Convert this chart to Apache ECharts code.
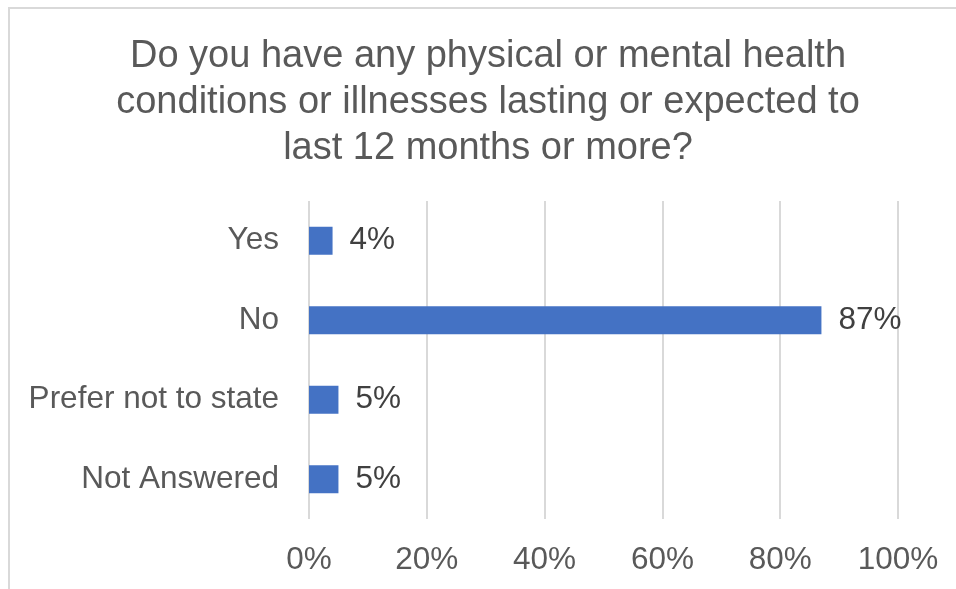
<!DOCTYPE html>
<html>
<head>
<meta charset="utf-8">
<script src="https://cdn.jsdelivr.net/npm/echarts@6/dist/echarts.min.js"></script>
<style>
html,body{margin:0;padding:0;background:#fff;}
#frame{position:absolute;left:8px;top:7px;width:1000px;height:700px;border:2px solid #d9d9d9;box-sizing:border-box;}
#chart{position:absolute;left:0;top:0;width:956px;height:589px;}
</style>
</head>
<body>
<div id="frame"></div>
<div id="chart"></div>
<script>
var titleText = 'Do you have any physical or mental health\nconditions or illnesses lasting or expected to\nlast 12 months or more?';
var categories = ['Yes', 'No', 'Prefer not to state', 'Not Answered'];
var values = [4, 87, 5, 5];
var xTicks = [0, 20, 40, 60, 80, 100];

var chart = echarts.init(document.getElementById('chart'), null, {renderer: 'canvas'});
var font = '"Liberation Sans", Arial, sans-serif';
chart.setOption({
  backgroundColor: 'transparent',
  animation: false,
  title: {
    text: titleText,
    left: 483,
    top: 29,
    textAlign: 'center',
    textStyle: {
      fontFamily: font,
      fontSize: 38,
      fontWeight: 'normal',
      color: '#595959',
      lineHeight: 46
    }
  },
  grid: {left: 309, right: 58, top: 201, bottom: 70, containLabel: false},
  xAxis: {
    type: 'value',
    min: xTicks[0],
    max: xTicks[xTicks.length - 1],
    interval: xTicks[1] - xTicks[0],
    axisLine: {show: false},
    axisTick: {show: false},
    splitLine: {show: true, lineStyle: {color: '#d9d9d9', width: 2}},
    axisLabel: {
      formatter: function (v) { return v + '%'; },
      margin: 25,
      fontFamily: font,
      fontSize: 31.5,
      color: '#595959'
    }
  },
  yAxis: {
    type: 'category',
    data: categories,
    inverse: true,
    axisLine: {show: false},
    axisTick: {show: false},
    splitLine: {show: false},
    axisLabel: {
      margin: 30,
      fontFamily: font,
      fontSize: 31.5,
      color: '#595959'
    }
  },
  series: [{
    type: 'bar',
    data: values,
    barWidth: 28,
    itemStyle: {color: '#4472C4'},
    label: {
      show: true,
      position: 'right',
      distance: 17,
      formatter: function (p) { return p.value + '%'; },
      fontFamily: font,
      fontSize: 31.5,
      color: '#404040'
    }
  }]
});
</script>
</body>
</html>
